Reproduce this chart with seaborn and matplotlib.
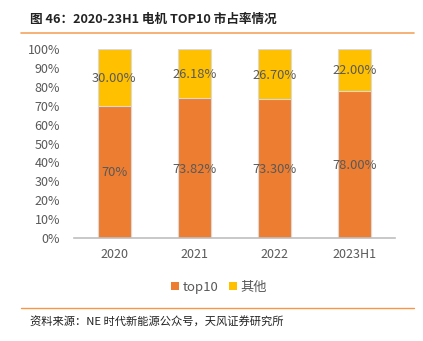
import matplotlib
matplotlib.use("Agg")
import matplotlib.pyplot as plt
import seaborn as sns
import pandas as pd
from matplotlib.lines import Line2D
from matplotlib.patches import Patch

# Market share data
periods = ["2020", "2021", "2022", "2023H1"]
top10 = [70.00, 73.82, 73.30, 78.00]
others = [30.00, 26.18, 26.70, 22.00]
top10_labels = ["70%", "73.82%", "73.30%", "78.00%"]
others_labels = ["30.00%", "26.18%", "26.70%", "22.00%"]
y_ticks = [0, 10, 20, 30, 40, 50, 60, 70, 80, 90, 100]

sns.set_theme(style="white")
plt.rcParams["font.family"] = ["Noto Sans CJK SC", "DejaVu Sans"]

C_TOP = "#ED7D31"
C_OTH = "#FFC000"
TXT = "#595959"

df = pd.DataFrame({"period": periods, "top10": top10, "others": others})
df["total"] = df["top10"] + df["others"]

fig = plt.figure(figsize=(4.23, 3.41), dpi=100)
ax = fig.add_axes([74 / 423, 1 - 238 / 341, (395 - 74) / 423, (238 - 49) / 341])

sns.barplot(data=df, x="period", y="total", color=C_OTH, width=0.41,
            edgecolor="#D9D9D9", linewidth=0.8, saturation=1, ax=ax)
sns.barplot(data=df, x="period", y="top10", color=C_TOP, width=0.41,
            edgecolor="#D9D9D9", linewidth=0.8, saturation=1, ax=ax)

for i, (t, o) in enumerate(zip(top10, others)):
    ax.text(i, t / 2 - 0.5, top10_labels[i], ha="center", va="center",
            fontsize=9.3, color=TXT)
    ax.text(i, t + o / 2 - 0.5, others_labels[i], ha="center", va="center",
            fontsize=9.3, color=TXT)

ax.set_xlim(-0.5, 3.5)
ax.set_ylim(0, 100)
ax.set_yticks(y_ticks)
ax.set_yticklabels([f"{v}%" for v in y_ticks])
ax.set_xlabel("")
ax.set_ylabel("")
ax.tick_params(axis="y", labelsize=9, labelcolor=TXT, length=0, pad=10)
ax.tick_params(axis="x", labelsize=9, labelcolor=TXT, length=0, pad=7)
for s in ["top", "right", "left"]:
    ax.spines[s].set_visible(False)
ax.spines["bottom"].set_color("#BFBFBF")
ax.spines["bottom"].set_linewidth(1.2)

handles = [Patch(facecolor=C_TOP, edgecolor="none", label="top10"),
           Patch(facecolor=C_OTH, edgecolor="none", label="其他")]
fig.legend(handles=handles, loc="center", bbox_to_anchor=(219 / 423, 1 - 287 / 341),
           ncol=2, frameon=False, fontsize=9.5, handlelength=0.6, handleheight=0.6,
           handletextpad=0.3, columnspacing=0.8, labelcolor=TXT)

# Title and framing rules
fig.text(30 / 423, 1 - 19 / 341, "图 46：2020-23H1 电机 TOP10 市占率情况",
         fontsize=9.1, fontweight="bold", color="#222222", va="center", ha="left")
fig.add_artist(Line2D([21 / 423, 414 / 423], [1 - 32.5 / 341] * 2,
                      color="#F4A460", linewidth=1.2, transform=fig.transFigure))
fig.add_artist(Line2D([21 / 423, 414 / 423], [1 - 308 / 341] * 2,
                      color="#F79646", linewidth=1.0, transform=fig.transFigure))
fig.text(30 / 423, 1 - 322 / 341, "资料来源：NE 时代新能源公众号，天风证券研究所",
         fontsize=8.1, color="#222222", va="center", ha="left")

fig.savefig("out.png", dpi=100)
